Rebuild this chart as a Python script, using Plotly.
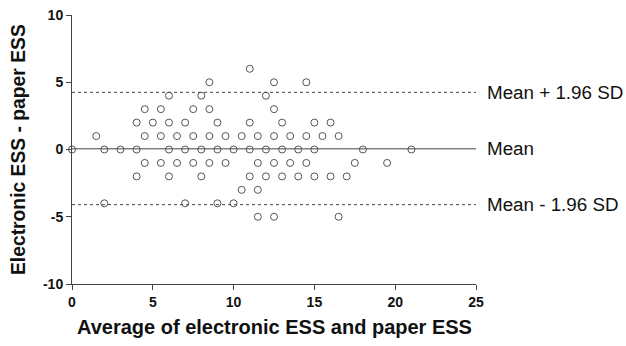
import plotly.graph_objects as go

# Bland-Altman data: (average, difference) grouped by difference value
diff_levels = [6, 5, 4, 3, 2, 1, 0, -1, -2, -3, -4, -5]
avg_by_level = [
    [11],
    [8.5, 12.5, 14.5],
    [6, 8, 12],
    [4.5, 5.5, 7.5, 8.5, 12.5],
    [4, 5, 6, 7, 9, 11, 13, 15, 16],
    [1.5, 4.5, 5.5, 6.5, 7.5, 8.5, 9.5, 10.5, 11.5, 12.5, 13.5, 14.5, 15.5, 16.5],
    [0, 2, 3, 4, 6, 7, 8, 9, 10, 11, 12, 13, 14, 15, 18, 21],
    [4.5, 5.5, 6.5, 7.5, 8.5, 9.5, 11.5, 12.5, 13.5, 14.5, 17.5, 19.5],
    [4, 6, 8, 11, 12, 13, 14, 15, 16, 17],
    [10.5, 11.5],
    [2, 7, 9, 10],
    [11.5, 12.5, 16.5],
]
mean_diff = 0.05
upper_loa = 4.25
lower_loa = -4.1
line_labels = ["Mean + 1.96 SD", "Mean", "Mean - 1.96 SD"]
x_ticks = [0, 5, 10, 15, 20, 25]
y_ticks = [-10, -5, 0, 5, 10]
y_tick_labels = ["-10", "-5", "0", "5", "10"]
x_title = "Average of electronic ESS and paper ESS"
y_title = "Electronic ESS - paper ESS"

xs, ys = [], []
for d, avgs in zip(diff_levels, avg_by_level):
    for a in avgs:
        xs.append(a)
        ys.append(d)

FONT = "Arial, Liberation Sans, sans-serif"

fig = go.Figure()
fig.add_trace(go.Scatter(
    x=xs, y=ys, mode="markers", cliponaxis=False,
    marker=dict(symbol="circle-open", size=7, color="#555555", line=dict(width=1)),
    showlegend=False,
))

lines = [(upper_loa, "dot"), (mean_diff, "solid"), (lower_loa, "dot")]
for (yv, dash), lab in zip(lines, line_labels):
    fig.add_shape(type="line", xref="x", yref="y", x0=0, x1=25, y0=yv, y1=yv,
                  line=dict(color="#444444", width=1, dash=dash))
    fig.add_annotation(xref="paper", yref="y", x=1.0, xshift=9, y=yv, text=lab,
                       showarrow=False, xanchor="left", yanchor="middle",
                       font=dict(family=FONT, size=18.8, color="#111111"))

fig.add_annotation(xref="paper", yref="paper", x=0.5, y=0, yshift=-43,
                   text="<b>" + x_title + "</b>", showarrow=False,
                   xanchor="center", yanchor="middle",
                   font=dict(family=FONT, size=20, color="#111111"))
fig.add_annotation(xref="paper", yref="paper", x=0, xshift=-53.5, y=0.5,
                   text="<b>" + y_title + "</b>", showarrow=False, textangle=-90,
                   xanchor="center", yanchor="middle",
                   font=dict(family=FONT, size=19.3, color="#111111"))

fig.update_layout(
    width=626, height=346,
    margin=dict(l=72, r=150, t=15, b=62),
    plot_bgcolor="white", paper_bgcolor="white",
    font=dict(family=FONT, color="#111111"),
    hovermode=False,
)
fig.update_xaxes(
    range=[0, 25], tickvals=x_ticks, showgrid=False, zeroline=False,
    showline=True, linecolor="#444444", linewidth=1, automargin=False,
    ticks="outside", ticklen=5, tickcolor="#444444",
    tickfont=dict(size=14, family=FONT, weight="bold"),
)
fig.update_yaxes(
    range=[-10, 10], tickvals=y_ticks, ticktext=y_tick_labels,
    showgrid=False, zeroline=False,
    showline=True, linecolor="#444444", linewidth=1, automargin=False,
    ticks="outside", ticklen=5, tickcolor="#444444",
    tickfont=dict(size=14, family=FONT, weight="bold"),
)

# remove the browser's default body margin so the figure sits at the window origin
fig.write_html("out.html", config={"displayModeBar": False},
               post_script="document.body.style.margin='0';")
